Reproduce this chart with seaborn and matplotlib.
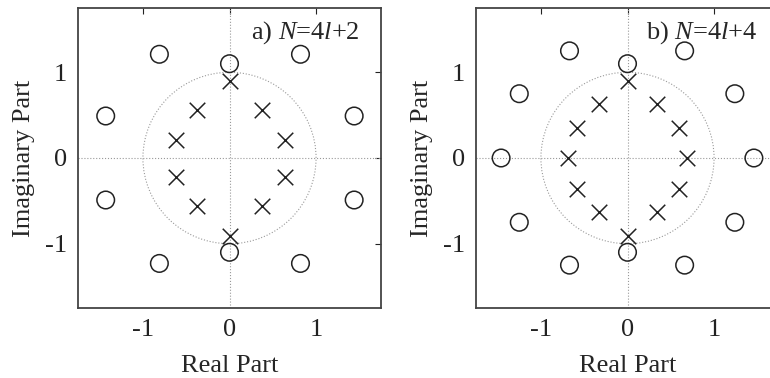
import matplotlib
matplotlib.use("Agg")
import matplotlib.pyplot as plt
import matplotlib.patches as mpatches
import seaborn as sns

# zeros (circles) and poles (crosses), panel a: N = 4l+2
zeros_a_re = [-0.81, 0.82, 0.0, -1.43, 1.44, -1.43, 1.44, 0.0, -0.81, 0.82]
zeros_a_im = [1.21, 1.21, 1.10, 0.49, 0.49, -0.49, -0.49, -1.10, -1.23, -1.23]
poles_a_re = [0.0, -0.37, 0.38, -0.62, 0.64, -0.62, 0.64, -0.37, 0.38, 0.0]
poles_a_im = [0.90, 0.56, 0.56, 0.21, 0.21, -0.22, -0.22, -0.56, -0.56, -0.91]

# panel b: N = 4l+4
zeros_b_re = [-0.67, 0.66, 0.0, -1.25, 1.24, -1.46, 1.46, -1.25, 1.24, 0.0, -0.67, 0.66]
zeros_b_im = [1.25, 1.25, 1.10, 0.75, 0.75, 0.0, 0.0, -0.75, -0.75, -1.10, -1.25, -1.25]
poles_b_re = [0.0, -0.33, 0.34, -0.58, 0.59, -0.69, 0.69, -0.58, 0.59, -0.33, 0.34, 0.0]
poles_b_im = [0.90, 0.63, 0.63, 0.35, 0.35, 0.0, 0.0, -0.36, -0.36, -0.63, -0.63, -0.91]

titles = ["a) $N$=4$l$+2", "b) $N$=4$l$+4"]
ticks = [-1, 0, 1]
tick_labels = ["-1", "0", "1"]

sns.set_style("white")
plt.rcParams["font.family"] = ["Liberation Serif", "DejaVu Serif"]
plt.rcParams["mathtext.fontset"] = "custom"
plt.rcParams["mathtext.rm"] = "Liberation Serif"
plt.rcParams["mathtext.it"] = "Liberation Serif:italic"

fig = plt.figure(figsize=(7.7, 3.78), dpi=100)
ax_a = fig.add_axes([78 / 770, 70 / 378, 303 / 770, 300 / 378])
ax_b = fig.add_axes([476 / 770, 70 / 378, 303 / 770, 300 / 378])

panels = [
    (ax_a, zeros_a_re, zeros_a_im, poles_a_re, poles_a_im, titles[0]),
    (ax_b, zeros_b_re, zeros_b_im, poles_b_re, poles_b_im, titles[1]),
]

for ax, zr, zi, pr, pi, title in panels:
    ax.add_patch(mpatches.Circle((0, 0), 1, fill=False, ls=":", lw=0.8, ec="#999999"))
    ax.axhline(0, ls=":", lw=0.8, color="#999999")
    ax.axvline(0, ls=":", lw=0.8, color="#999999")
    sns.scatterplot(x=zr, y=zi, ax=ax, marker="o", s=160, facecolor="none",
                    edgecolor="#222222", linewidth=1.1, zorder=3)
    sns.scatterplot(x=pr, y=pi, ax=ax, marker="x", s=125, color="#222222",
                    linewidth=1.1, zorder=3)
    ax.set_xlim(-1.75, 1.75)
    ax.set_ylim(-1.75, 1.75)
    ax.set_xticks(ticks)
    ax.set_xticklabels(tick_labels)
    ax.set_yticks(ticks)
    ax.set_yticklabels(tick_labels)
    ax.tick_params(direction="in", length=4, width=0.8, top=True, right=True,
                   labelsize=19, pad=8, colors="#222222")
    for sp in ax.spines.values():
        sp.set_color("#444444")
        sp.set_linewidth(1.3)
    ax.set_xlabel("Real Part", fontsize=19, labelpad=10)
    ax.set_ylabel("Imaginary Part", fontsize=19, labelpad=7)
    ax.text(1.5, 1.39, title, fontsize=19, ha="right", va="baseline")

fig.savefig("out.png", dpi=100)
